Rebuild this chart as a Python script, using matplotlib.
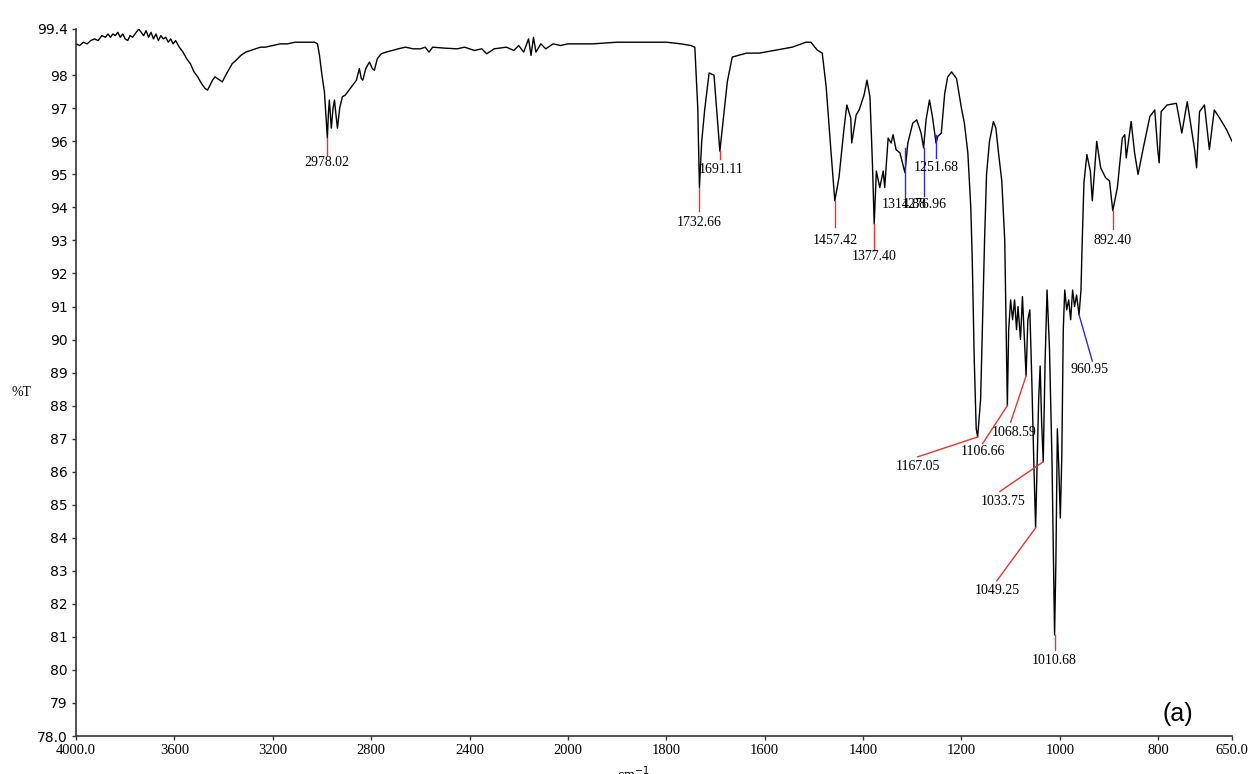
import numpy as np
import matplotlib
matplotlib.use("Agg")
import matplotlib.pyplot as plt

# IR spectrum (wavenumber cm-1, %T)
wn = [4000, 3985, 3970, 3955, 3940, 3925, 3910, 3895, 3880, 3870, 3860, 3850, 3840, 3830,
      3820, 3810, 3800, 3790, 3780, 3770, 3755, 3745, 3735, 3725, 3715, 3705, 3695, 3685,
      3675, 3665, 3655, 3645, 3635, 3625, 3615, 3605, 3595, 3580, 3565, 3550, 3535, 3520,
      3505, 3490, 3475, 3465, 3455, 3445, 3435, 3425, 3415, 3405, 3395, 3380, 3365, 3350,
      3330, 3310, 3290, 3270, 3250, 3230, 3200, 3170, 3140, 3110, 3080, 3050, 3030, 3018,
      3010, 3000, 2990, 2984, 2978, 2974, 2970, 2966, 2962, 2955, 2949, 2943, 2937, 2928,
      2917, 2905, 2890, 2875, 2860, 2848, 2840, 2834, 2822, 2807, 2795, 2787, 2775, 2759,
      2740, 2714, 2690, 2660, 2630, 2600, 2580, 2565, 2550, 2500, 2450, 2420, 2380, 2350,
      2330, 2300, 2250, 2220, 2200, 2180, 2160, 2150, 2140, 2130, 2110, 2090, 2060, 2030,
      2000, 1950, 1900, 1850, 1800, 1770, 1750, 1742, 1736, 1732.66, 1728, 1722, 1713, 1703,
      1696, 1691.11, 1682, 1676, 1666, 1637, 1611, 1577, 1544, 1516, 1506, 1493, 1483, 1475,
      1465, 1457.42, 1449, 1439, 1433, 1425, 1423, 1414, 1408, 1398, 1392, 1386, 1381,
      1377.4, 1373, 1366, 1359, 1356, 1349, 1343, 1339, 1333, 1325, 1319, 1314.88, 1309,
      1299, 1291, 1282, 1276.96, 1272, 1265, 1259, 1251.68, 1248, 1241, 1234, 1228, 1220,
      1210, 1200, 1194, 1187, 1181, 1178, 1174, 1170, 1167.05, 1161, 1157, 1153, 1149, 1143,
      1135, 1130, 1125, 1118, 1112, 1109, 1106.66, 1104, 1100, 1096, 1092, 1088, 1085, 1080,
      1076, 1072, 1068.59, 1065, 1061, 1057, 1053, 1049.25, 1046, 1043, 1040, 1037, 1033.75,
      1030, 1026, 1021, 1016, 1013, 1010.68, 1008, 1005, 1002, 999, 996, 993, 990, 986, 982,
      978, 974, 970, 966, 960.95, 957, 955, 951, 945, 938, 934, 929, 925, 917, 907, 899,
      892.4, 883, 873, 868, 865, 855, 848, 841, 831, 817, 807, 801, 798, 794, 782, 763, 752,
      741, 726, 722, 716, 706, 696, 686, 675, 661, 650]
T = [98.95, 98.9, 99.0, 98.95, 99.05, 99.1, 99.05, 99.2, 99.15, 99.25, 99.15, 99.25, 99.2, 99.3,
     99.15, 99.25, 99.1, 99.05, 99.2, 99.15, 99.3, 99.4, 99.3, 99.2, 99.35, 99.15, 99.3, 99.1,
     99.25, 99.05, 99.2, 99.1, 99.15, 99.0, 99.1, 98.95, 99.05, 98.85, 98.7, 98.5, 98.35, 98.1,
     97.95, 97.75, 97.6, 97.55, 97.7, 97.85, 97.95, 97.9, 97.85, 97.8, 97.95, 98.15, 98.35, 98.45,
     98.6, 98.7, 98.75, 98.8, 98.85, 98.85, 98.9, 98.95, 98.95, 99.0, 99.0, 99.0, 99.0, 98.95,
     98.6, 98.0, 97.5, 96.8, 96.1, 96.8, 97.25, 96.8, 96.4, 97.0, 97.25, 96.8, 96.4, 97.0,
     97.35, 97.4, 97.55, 97.7, 97.85, 98.2, 97.9, 97.85, 98.2, 98.4, 98.2, 98.15, 98.5, 98.65,
     98.7, 98.75, 98.8, 98.85, 98.8, 98.8, 98.85, 98.7, 98.85, 98.82, 98.8, 98.85, 98.75, 98.8,
     98.65, 98.8, 98.85, 98.75, 98.9, 98.7, 99.1, 98.6, 99.15, 98.7, 98.95, 98.8, 98.95, 98.9,
     98.95, 98.95, 99.0, 99.0, 99.0, 98.95, 98.9, 98.85, 97.0, 94.6, 96.0, 96.95, 98.07, 98.0,
     96.65, 95.7, 96.95, 97.8, 98.55, 98.67, 98.67, 98.76, 98.85, 99.0, 99.0, 98.76, 98.67, 97.65,
     95.65, 94.2, 94.9, 96.35, 97.1, 96.7, 95.95, 96.8, 96.95, 97.4, 97.85, 97.35, 95.35,
     93.5, 95.1, 94.6, 95.1, 94.6, 96.1, 95.95, 96.2, 95.75, 95.65, 95.3, 95.05, 95.95,
     96.55, 96.65, 96.25, 95.8, 96.65, 97.25, 96.75, 95.95, 96.15, 96.25, 97.45, 97.95, 98.1,
     97.9, 97.0, 96.55, 95.65, 94.0, 92.4, 89.4, 87.3, 87.05, 88.2, 90.6, 93.0, 95.0, 96.0,
     96.6, 96.4, 95.7, 94.8, 93.0, 90.3, 88.0, 90.3, 91.2, 90.6, 91.2, 90.3, 91.0, 90.0,
     91.3, 90.0, 88.9, 90.6, 90.9, 88.8, 86.35, 84.3, 86.35, 88.2, 89.2, 87.5, 86.3,
     89.3, 91.5, 89.7, 86.4, 83.3, 81.06, 83.3, 87.3, 86.1, 84.6, 86.45, 90.3, 91.5, 90.9, 91.2,
     90.6, 91.5, 91.0, 91.35, 90.75, 91.5, 92.7, 94.75, 95.6, 95.1, 94.2, 95.2, 96.0, 95.2, 94.9, 94.8,
     93.9, 94.6, 96.1, 96.2, 95.5, 96.6, 95.65, 95.0, 95.75, 96.75, 96.95, 95.75, 95.35, 96.9, 97.1, 97.15, 96.25,
     97.2, 95.75, 95.2, 96.9, 97.1, 95.75, 96.95, 96.7, 96.35, 96.0]

# labelled peaks: wavenumber, %T at the peak, label, colour
peak_wn = [2978.02, 1732.66, 1691.11, 1457.42, 1377.40, 1314.88, 1276.96, 1251.68,
           1167.05, 1106.66, 1068.59, 1049.25, 1033.75, 1010.68, 960.95, 892.40]
peak_T = [96.1, 94.6, 95.7, 94.2, 93.5, 95.8, 95.8, 96.2,
          87.05, 88.0, 88.9, 84.3, 86.3, 81.06, 90.75, 93.9]
peak_col = ["r", "r", "r", "r", "r", "b", "b", "b",
            "r", "r", "r", "r", "r", "r", "b", "r"]

# where each leader line ends and its text sits (wn, %T)
lead_end = [(2978.02, 95.6), (1732.66, 93.9), (1691.11, 95.45), (1457.42, 93.4),
            (1377.40, 92.7), (1314.88, 94.3), (1276.96, 94.35), (1251.68, 95.5),
            (1289, 86.45), (1157, 86.85), (1100, 87.5), (1128, 82.7),
            (1122, 85.4), (1010.68, 80.6), (934, 89.35), (892.40, 93.35)]
text_pos = [(2978.02, 95.35), (1732.66, 93.55), (1688, 95.15), (1457.42, 93.0),
            (1377.40, 92.5), (1316, 94.1), (1275, 94.1), (1252, 95.2),
            (1289, 86.15), (1157, 86.6), (1092, 87.2), (1128, 82.4),
            (1116, 85.1), (1010.68, 80.3), (939, 89.1), (892.40, 93.0)]

ytick_vals = [78, 79, 80, 81, 82, 83, 84, 85, 86, 87, 88, 89, 90, 91, 92, 93, 94, 95, 96, 97, 98, 99.4]
ytick_lbls = ["78.0"] + [str(v) for v in range(79, 99)] + ["99.4"]
xtick_vals = [4000, 3600, 3200, 2800, 2400, 2000, 1800, 1600, 1400, 1200, 1000, 800, 650]
xtick_lbls = ["4000.0", "3600", "3200", "2800", "2400", "2000", "1800", "1600", "1400",
              "1200", "1000", "800", "650.0"]

red = "#e8352f"
blue = "#2b2bdc"


# x axis is expanded 2x below 2000 cm-1
def fwd(x):
    x = np.asarray(x, dtype=float)
    return np.where(x >= 2000, (x - 2000) / 2.0, x - 2000)


def inv(u):
    u = np.asarray(u, dtype=float)
    return np.where(u >= 0, 2000 + 2.0 * u, u + 2000)


fig = plt.figure(figsize=(12.56, 7.74), dpi=100)
ax = fig.add_axes([76 / 1256, 1 - 736 / 774, (1232 - 76) / 1256, (736 - 29) / 774])
ax.set_xscale("function", functions=(fwd, inv))

ax.plot(wn, T, color="black", lw=1.0)

for i in range(len(peak_wn)):
    c = red if peak_col[i] == "r" else blue
    ax.plot([peak_wn[i], lead_end[i][0]], [peak_T[i], lead_end[i][1]], color=c, lw=1.0)
    ax.text(text_pos[i][0], text_pos[i][1], "%.2f" % peak_wn[i], ha="center", va="center",
            fontsize=10, family="Liberation Serif", color="black")

ax.set_xlim(4000, 650)
ax.set_ylim(78, 99.4)
ax.set_xticks(xtick_vals)
ax.set_xticklabels(xtick_lbls, family="Liberation Serif", fontsize=10.5)
ax.set_yticks(ytick_vals)
ax.set_yticklabels(ytick_lbls, family="DejaVu Sans", fontsize=10)
ax.minorticks_off()
ax.tick_params(axis="both", length=3, width=1, color="#333333", pad=3)

for s in ["top", "right"]:
    ax.spines[s].set_visible(False)
for s in ["left", "bottom"]:
    ax.spines[s].set_color("#333333")
    ax.spines[s].set_linewidth(1.2)

fig.text(22 / 1256, 1 - 393 / 774, "%T", family="Liberation Serif", fontsize=10,
         ha="center", va="center")
fig.text(633 / 1256, 1 - 764 / 774, "cm$^{-1}$", family="Liberation Serif", fontsize=10,
         ha="center", va="top")
fig.text(1178 / 1256, 1 - 714 / 774, "(a)", family="Liberation Sans", fontsize=18,
         ha="center", va="center")

fig.savefig("out.png", dpi=100)
